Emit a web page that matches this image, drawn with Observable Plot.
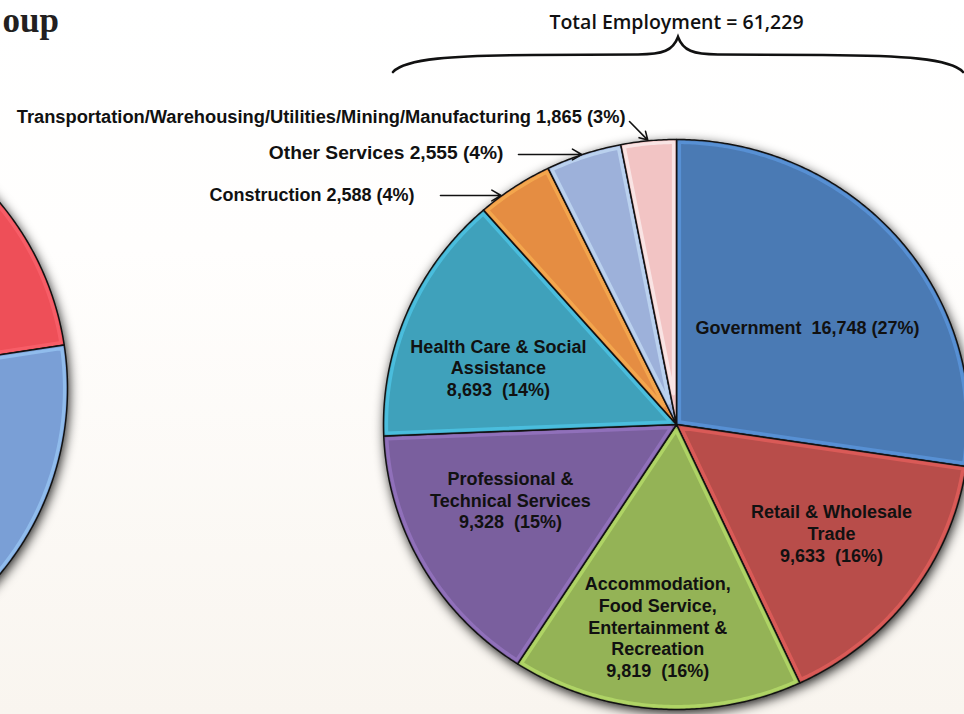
<!DOCTYPE html>
<html><head><meta charset="utf-8">
<script src="https://cdn.jsdelivr.net/npm/d3@7"></script>
<script src="https://cdn.jsdelivr.net/npm/@observablehq/plot@0.6"></script>
<style>
html,body{margin:0;padding:0;}
body{width:964px;height:714px;overflow:hidden;background:linear-gradient(to bottom,#ffffff 0%,#fffefd 35%,#f9f5ef 100%);}
#chart{position:relative;width:964px;height:714px;}
#chart svg{display:block;}
</style></head><body><div id="chart"></div>
<script>
// ---------------- data ----------------
const industries = [
  "Government",
  "Retail & Wholesale Trade",
  "Accommodation, Food Service, Entertainment & Recreation",
  "Professional & Technical Services",
  "Health Care & Social Assistance",
  "Construction",
  "Other Services",
  "Transportation/Warehousing/Utilities/Mining/Manufacturing"
];
const employment = [16748, 9633, 9819, 9328, 8693, 2588, 2555, 1865];
const sharePct = [27, 16, 16, 15, 14, 4, 4, 3];
const labelNameLines = [
  ["Government"],
  ["Retail & Wholesale", "Trade"],
  ["Accommodation,", "Food Service,", "Entertainment &", "Recreation"],
  ["Professional &", "Technical Services"],
  ["Health Care & Social", "Assistance"],
  ["Construction"],
  ["Other Services"],
  ["Transportation/Warehousing/Utilities/Mining/Manufacturing"]
];
const sliceColors = ["#4a7ab4", "#b84d4a", "#94b356", "#7a5f9e", "#3fa1bb", "#e58d42", "#9db1da", "#f2c4c4"];
const totalLabel = "Total Employment = 61,229";
const titleFragment = "oup";
// neighbouring (cropped) pie on the left
const leftValues = [10, 12.6, 40, 37.4];
const leftColors = ["#9bbb59", "#ee4f58", "#7a9fd6", "#f79646"];

// ---------------- layout ----------------
const CX = 676, CY = 424, RX = 293, RY = 285;          // main pie geometry (px)
const ux = px => (px - CX) / RX, uy = py => (CY - py) / RY;
const LEFT = {cx: ux(-222), cy: uy(388), rx: 289 / RX, ry: 289 / RY};
// inner label placement: [angle offset from slice middle (deg), radius fraction]
const innerPlace = [[3.5, 0.562], [-1, 0.652], [1.2, 0.712], [4.8, 0.625], [-5, 0.64]];
// outer labels: [label right edge px, label y px, arrow start x px, arrow start y px, font size]
const outerPlace = {5: [414, 195, 440, 195, 18], 6: [503, 152, 518, 154, 19.2], 7: [625, 117, 629, 121, 18.3]};

const fmt = d3.format(",");
const deg = Math.PI / 180;

function wedge(id, g, a0, a1, color, shrinkPx) {
  const pts = [];
  const s = shrinkPx || 0;
  const half = (a1 - a0) / 2, mid = a0 + half;
  let apexD = 0;
  if (s > 0) apexD = Math.min(s / Math.sin(Math.min(half, Math.PI / 2)), 60) / 290;
  const rr = 1 - s / 290;
  pts.push({id, color, x: g.cx + apexD * g.rx * Math.sin(mid), y: g.cy + apexD * g.ry * Math.cos(mid)});
  const e0 = a0 + (s > 0 ? s / 290 : 0), e1 = a1 - (s > 0 ? s / 290 : 0);
  const n = Math.max(2, Math.ceil((e1 - e0) / (0.5 * deg)));
  for (let k = 0; k <= n; k++) {
    const a = e0 + (e1 - e0) * k / n;
    pts.push({id, color, x: g.cx + rr * g.rx * Math.sin(a), y: g.cy + rr * g.ry * Math.cos(a)});
  }
  return pts;
}

const MAIN = {cx: 0, cy: 0, rx: 1, ry: 1};
const arcs = d3.pie().sort(null).value(d => d)(employment);
const leftArcs = d3.pie().sort(null).value(d => d)(leftValues);

let slicePts = [], rimPts = [], shadowPts = [];
arcs.forEach((a, i) => {
  slicePts = slicePts.concat(wedge("m" + i, MAIN, a.startAngle, a.endAngle, sliceColors[i], 0));
  rimPts = rimPts.concat(wedge("r" + i, MAIN, a.startAngle, a.endAngle, d3.color(sliceColors[i]).brighter(0.8).formatHex(), 3));
});
leftArcs.forEach((a, i) => {
  slicePts = slicePts.concat(wedge("l" + i, LEFT, a.startAngle, a.endAngle, leftColors[i], 0));
  rimPts = rimPts.concat(wedge("lr" + i, LEFT, a.startAngle, a.endAngle, d3.color(leftColors[i]).brighter(0.8).formatHex(), 3));
});
shadowPts = shadowPts.concat(wedge("sm", MAIN, 0, 2 * Math.PI, "#000", 0).slice(1));
shadowPts = shadowPts.concat(wedge("sl", LEFT, 0, 2 * Math.PI, "#000", 0).slice(1));

const innerLabels = [0, 1, 2, 3, 4].map(i => {
  const a = arcs[i];
  const [da, r] = innerPlace[i];
  const ang = (a.startAngle + a.endAngle) / 2 + da * deg;
  const valueLine = `${fmt(employment[i])}  (${sharePct[i]}%)`;
  const text = i === 0 ? `${labelNameLines[i][0]}  ${fmt(employment[i])} (${sharePct[i]}%)`
                       : [...labelNameLines[i], valueLine].join("\n");
  return {text, x: r * Math.sin(ang), y: r * Math.cos(ang)};
});

const outerLabels = [5, 6, 7].map(i => {
  const [lx, ly, sx, sy, fs] = outerPlace[i];
  const a = arcs[i];
  let tx, ty;
  if (i === 7) {
    const m = (a.startAngle + a.endAngle) / 2;
    tx = Math.sin(m); ty = Math.cos(m);
  } else {
    ty = uy(sy); tx = -Math.sqrt(1 - ty * ty);
  }
  return {text: `${labelNameLines[i][0]} ${fmt(employment[i])} (${sharePct[i]}%)`, fs,
          x: ux(lx), y: uy(ly), x1: ux(sx), y1: uy(sy), x2: tx, y2: ty};
});

const outerMarks = outerLabels.map(d =>
  Plot.text([d], {x: "x", y: "y", text: "text", textAnchor: "end", fontSize: d.fs, fontWeight: "bold", fill: "#111", fontFamily: "Liberation Sans"}));

const plot = Plot.plot({
  width: 964, height: 714, margin: 0,
  x: {domain: [-1, 1], range: [CX - RX, CX + RX], axis: null},
  y: {domain: [-1, 1], range: [CY + RY, CY - RY], axis: null},
  color: {type: "identity"},
  style: {background: "transparent", fontFamily: "Liberation Sans"},
  marks: [
    Plot.line(shadowPts, {x: "x", y: "y", z: "id", fill: "#000", fillOpacity: 0.9, stroke: "none", curve: "linear-closed"}),
    Plot.line(slicePts, {x: "x", y: "y", z: "id", fill: "color", stroke: "#121212", strokeWidth: 1.5, strokeLinejoin: "round", curve: "linear-closed"}),
    Plot.line(rimPts, {x: "x", y: "y", z: "id", stroke: "color", strokeWidth: 3.2, strokeOpacity: 0.55, fill: "none", curve: "linear-closed"}),
    Plot.text(innerLabels, {x: "x", y: "y", text: "text", fontSize: 18, fontWeight: "bold", fill: "#111", lineHeight: 1.2, fontFamily: "Liberation Sans"}),
    ...outerMarks,
    Plot.arrow(outerLabels, {x1: "x1", y1: "y1", x2: "x2", y2: "y2", stroke: "#111", strokeWidth: 1.6, headLength: 10, insetEnd: 1}),
    Plot.text([totalLabel], {x: () => 0, y: () => uy(22), text: d => d, fontSize: 19.5, fontWeight: 600, fill: "#111", fontFamily: "Open Sans"}),
    Plot.text([titleFragment], {x: () => ux(2), y: () => uy(20), text: d => d, textAnchor: "start", fontSize: 35, fontWeight: "bold", fill: "#231f20", fontFamily: "Liberation Serif"})
  ]
});

// drop shadow + brace annotation
const svg = d3.select(plot);
const defs = svg.insert("defs", ":first-child");
const f = defs.append("filter").attr("id", "pieShadow").attr("x", "-20%").attr("y", "-20%").attr("width", "140%").attr("height", "140%");
f.append("feGaussianBlur").attr("stdDeviation", 6);
svg.selectAll('g[aria-label="line"]').filter((d, i) => i === 0)
  .attr("filter", "url(#pieShadow)").attr("transform", "translate(2,4)");

const L = 393, R = 963, M = 678, yEnd = 72, yMid = 54.5, yTip = 37;
const brace = `M${L},${yEnd} C${L + 12},${yMid + 4} ${L + 60},${yMid + 1} ${L + 140},${yMid + 0.5} L${M - 40},${yMid} ` +
  `C${M - 15},${yMid} ${M - 5},${yMid - 4} ${M},${yTip} C${M + 5},${yMid - 4} ${M + 15},${yMid} ${M + 40},${yMid} ` +
  `L${R - 140},${yMid + 0.5} C${R - 60},${yMid + 1} ${R - 12},${yMid + 4} ${R},${yEnd}`;
svg.append("path").attr("d", brace).attr("fill", "none").attr("stroke", "#111").attr("stroke-width", 2.6).attr("stroke-linecap", "round");

document.getElementById("chart").appendChild(plot);
</script></body></html>
